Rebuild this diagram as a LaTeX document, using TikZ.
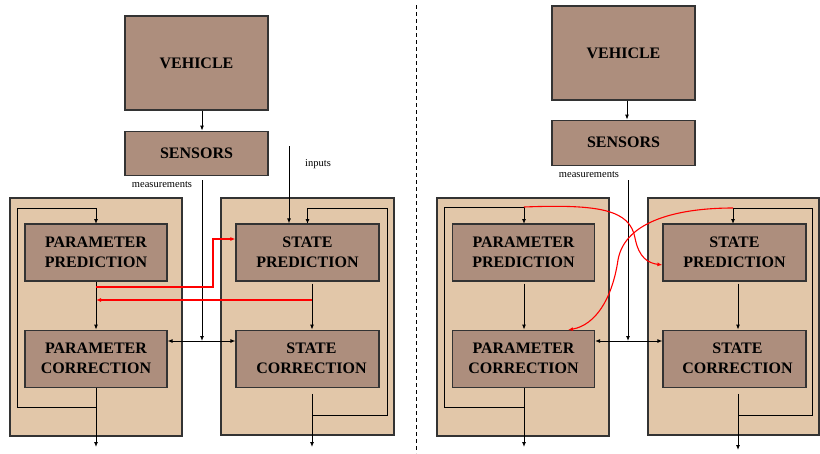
\documentclass[tikz,border=0pt]{standalone}
\usepackage{fontspec}
\setmainfont{Liberation Serif}
\usepackage{xcolor}
\definecolor{BlockBrown}{HTML}{AD8E7D}
\definecolor{PanelTan}{HTML}{E2C7A9}
\usepackage{tikz}
\usetikzlibrary{arrows.meta,positioning}

\begin{document}
\begin{tikzpicture}[x=1pt, y=-1pt, >={Latex[length=5pt,width=4pt]},
  every node/.style={align=center, inner sep=0pt},
  block/.style={draw=black!80, line width=1.2pt, fill=BlockBrown, font=\bfseries\fontsize{16}{20}\selectfont},
  stage/.style={block, minimum width=142pt, minimum height=57pt},
  panel/.style={draw=black!80, line width=1.2pt, fill=PanelTan, minimum width=172pt, minimum height=238pt},
  link/.style={line width=0.9pt, ->},
  redlink/.style={draw=red, line width=1.1pt, ->},
  tag/.style={font=\fontsize{10.5}{12}\selectfont}]
  \useasboundingbox (0,0) rectangle (820,453);

  % left: separate estimators
  \node[block, minimum width=143pt, minimum height=94pt] (vehicleA) at (196.5,63) {VEHICLE};
  \node[block, minimum width=143pt, minimum height=44pt, below=20pt of vehicleA] (sensorsA) {SENSORS};
  \node[panel] (parPanA) at (96,317) {};
  \node[panel, minimum width=173pt, minimum height=237pt] (stPanA) at (307.5,316.5) {};
  \coordinate (measA) at (202,180);
  \coordinate (junA) at (202,341);
  \coordinate (inA) at (289,146);
  \coordinate (outPA) at (96,447);
  \coordinate (outSA) at (312,447);
  \draw[link] (outPA |- 0,407) -- (17,407) -- (17,208) -| (96,224);
  \draw[link] (outSA |- 0,415) -- (387,415) -- (387,208) -| (307.5,224);
  \node[stage] (parPredA) at (96,252.5) {PARAMETER\\PREDICTION};
  \node[stage, below=48pt of parPredA] (parCorA) {PARAMETER\\CORRECTION};
  \node[stage, minimum width=143pt] (stPredA) at (307.5,252.5) {STATE\\PREDICTION};
  \node[stage, minimum width=143pt, below=48pt of stPredA] (stCorA) {\hspace*{8pt}STATE\\\hspace*{8pt}CORRECTION};
  \node[tag] (measLabA) at (162,185) {measurements};
  \node[tag] (inLabA) at (318,164) {inputs};

  \draw[link] (vehicleA.south -| measA) -- (sensorsA.north -| measA);
  \draw[link] (parPredA) -- (parCorA);
  \draw[link, shorten <=2pt] (stPredA.south -| outSA) -- (stCorA.north -| outSA);
  \draw[link] (measA) -- (junA);
  \draw[<->, line width=0.9pt] (parCorA.east |- junA) -- (stCorA.west |- junA);
  \draw[link] (inA) -- (inA |- stPredA.north);
  \draw[link] (parCorA) -- (outPA);
  \draw[link, shorten <=6pt] (stCorA.south -| outSA) -- (outSA);
  \draw[redlink] (outPA |- 0,287) -| (213,239) -- (stPredA.west |- 0,239);
  \draw[redlink] (outSA |- 0,300) -- (outPA |- 0,300);

  \draw[line width=0.9pt, dash pattern=on 4pt off 3pt] (416,5) -- (416,453);

  % right: joint estimator
  \node[block, minimum width=143pt, minimum height=94pt] (vehicleB) at (623.5,53) {VEHICLE};
  \node[block, minimum width=143pt, minimum height=45pt, below=19pt of vehicleB] (sensorsB) {SENSORS};
  \node[panel] (parPanB) at (523,317) {};
  \node[panel, minimum width=171pt, minimum height=237pt] (stPanB) at (733.5,316.5) {};
  \coordinate (measB) at (628,180);
  \coordinate (junB) at (628,341);
  \coordinate (outPB) at (524,447);
  \coordinate (outSB) at (738,450);
  \draw[link] (outPB |- 0,407) -- (444,407) -- (444,207) -| (524,224);
  \draw[link] (outSB |- 0,415) -- (812,415) -- (812,208) -| (733,224);
  \node[stage] (parPredB) at (523.5,252.5) {PARAMETER\\PREDICTION};
  \node[stage, below=48pt of parPredB] (parCorB) {PARAMETER\\CORRECTION};
  \node[stage, minimum width=143pt] (stPredB) at (734.5,252.5) {STATE\\PREDICTION};
  \node[stage, minimum width=143pt, below=48pt of stPredB] (stCorB) {\hspace*{6pt}STATE\\\hspace*{6pt}CORRECTION};
  \node[tag] (measLabB) at (589,175) {measurements};

  \draw[link] (vehicleB.south -| 627,0) -- (sensorsB.north -| 627,0);
  \draw[link, shorten <=2pt] (parPredB.south -| outPB) -- (parCorB.north -| outPB);
  \draw[link, shorten <=2pt] (stPredB.south -| outSB) -- (stCorB.north -| outSB);
  \draw[link] (measB) -- (junB);
  \draw[<->, line width=0.9pt] (parCorB.east |- junB) -- (stCorB.west |- junB);
  \draw[link] (parCorB.south -| outPB) -- (outPB);
  \draw[link, shorten <=6pt] (stCorB.south -| outSB) -- (outSB);
  \draw[redlink] (524,207) .. controls (600,204) and (630,210) .. (635,238)
    .. controls (639,258) and (648,263) .. (stPredB.west |- 0,265);
  \draw[redlink] (733,208) .. controls (680,208) and (625,220) .. (618,260)
    .. controls (612,300) and (595,325) .. (568,330);
\end{tikzpicture}
\end{document}
